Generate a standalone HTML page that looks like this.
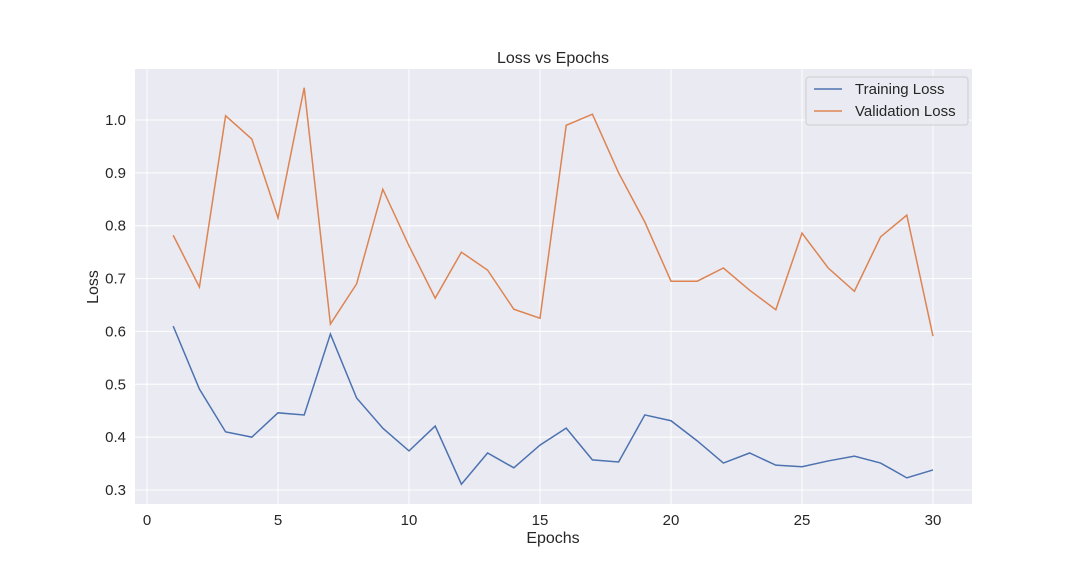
<!DOCTYPE html>
<html><head><meta charset="utf-8"><style>
body{margin:0;background:#fff;}
svg text{font-family:"Liberation Sans","DejaVu Sans",sans-serif;fill:#262626;}
</style></head><body>
<svg id="chart" width="1080" height="576" xmlns="http://www.w3.org/2000/svg">
<rect x="0" y="0" width="1080" height="576" fill="#fff"/>
<rect x="135" y="69" width="837" height="435" fill="#eaeaf2"/>
<g id="grid"></g>
<g id="series"></g>
<text x="553" y="63" font-size="16" text-anchor="middle">Loss vs Epochs</text>
<text x="553" y="543" font-size="16" text-anchor="middle">Epochs</text>
<text x="98" y="287" font-size="16" text-anchor="middle" transform="rotate(-90 98 287)">Loss</text>
<g>
<rect x="806" y="77" width="162" height="48" rx="3" fill="#eaeaf2" stroke="#ccc" opacity="0.9"/>
<line x1="814" y1="89" x2="842" y2="89" stroke="#4c72b0" stroke-width="1.5"/>
<text x="855" y="94" font-size="15">Training Loss</text>
<line x1="814" y1="111" x2="842" y2="111" stroke="#dd8452" stroke-width="1.5"/>
<text x="855" y="116" font-size="15">Validation Loss</text>
</g>
</svg>
<script>
const epochs=[1,2,3,4,5,6,7,8,9,10,11,12,13,14,15,16,17,18,19,20,21,22,23,24,25,26,27,28,29,30];
const trainingLoss=[0.610,0.491,0.410,0.400,0.446,0.442,0.595,0.474,0.417,0.374,0.421,0.311,0.370,0.342,0.385,0.417,0.357,0.353,0.442,0.431,0.393,0.351,0.370,0.347,0.344,0.355,0.364,0.351,0.323,0.338];
const validationLoss=[0.782,0.684,1.008,0.964,0.815,1.061,0.614,0.690,0.869,0.762,0.663,0.750,0.716,0.642,0.625,0.990,1.011,0.900,0.807,0.695,0.695,0.720,0.678,0.641,0.786,0.720,0.676,0.779,0.820,0.591];
const xTicks=[0,5,10,15,20,25,30];
const yTicks=[0.3,0.4,0.5,0.6,0.7,0.8,0.9,1.0];
const NS="http://www.w3.org/2000/svg";
function xs(v){return 147+v*(933-147)/30;}
function ys(v){return 490-(v-0.3)*(490-120)/0.7;}
const grid=document.getElementById('grid');
xTicks.forEach(t=>{
  const l=document.createElementNS(NS,'line');
  l.setAttribute('x1',xs(t));l.setAttribute('x2',xs(t));l.setAttribute('y1',69);l.setAttribute('y2',504);
  l.setAttribute('stroke','#fff');l.setAttribute('stroke-width','1');
  
  
  grid.appendChild(l);
  const tx=document.createElementNS(NS,'text');
  tx.setAttribute('x',xs(t));tx.setAttribute('y',525);tx.setAttribute('font-size','15');tx.setAttribute('text-anchor','middle');
  tx.textContent=t;
  
  
  grid.appendChild(tx);
});
yTicks.forEach(t=>{
  const l=document.createElementNS(NS,'line');
  l.setAttribute('x1',135);l.setAttribute('x2',972);l.setAttribute('y1',ys(t));l.setAttribute('y2',ys(t));
  l.setAttribute('stroke','#fff');l.setAttribute('stroke-width','1');
  
  
  grid.appendChild(l);
  const tx=document.createElementNS(NS,'text');
  tx.setAttribute('x',126);tx.setAttribute('y',ys(t)+5);tx.setAttribute('font-size','15');tx.setAttribute('text-anchor','end');
  tx.textContent=t.toFixed(1);
  
  
  grid.appendChild(tx);
});
const series=document.getElementById('series');
function draw(vals,color,name){
  const p=document.createElementNS(NS,'polyline');
  p.setAttribute('points',vals.map((v,i)=>xs(epochs[i])+','+ys(v)).join(' '));
  p.setAttribute('fill','none');p.setAttribute('stroke',color);p.setAttribute('stroke-width','1.5');
  
  
  series.appendChild(p);
}
draw(trainingLoss,'#4c72b0','training-loss-line');
draw(validationLoss,'#dd8452','validation-loss-line');
</script>
</body></html>
